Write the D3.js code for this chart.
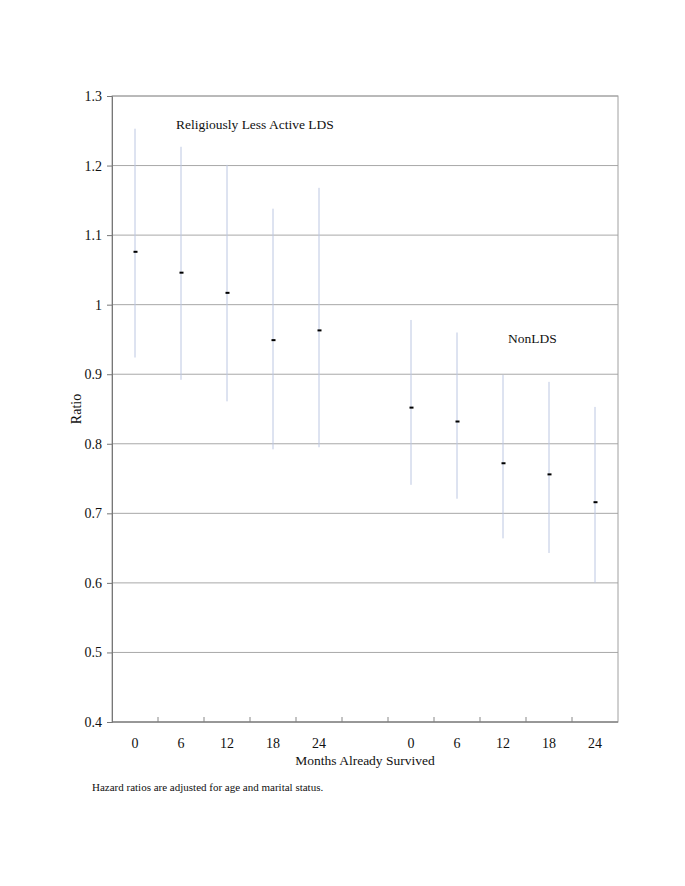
<!DOCTYPE html>
<html><head><meta charset="utf-8">
<script src="https://cdn.jsdelivr.net/npm/d3@7"></script>
<style>body{margin:0;background:#fff}svg{display:block}svg text{font-family:"Liberation Serif","Times New Roman",serif !important;fill:#111}</style>
</head><body>
<svg id="c" width="685" height="886"></svg>
<script>
const categories = ["L0","L6","L12","L18","L24","gap","N0","N6","N12","N18","N24"];
const tickLabels = ["0","6","12","18","24","","0","6","12","18","24"];
const pointCats = ["L0","L6","L12","L18","L24","N0","N6","N12","N18","N24"];
const ratio = [1.076,1.046,1.017,0.949,0.963,0.852,0.832,0.772,0.756,0.716];
const upper = [1.253,1.227,1.201,1.138,1.168,0.978,0.960,0.899,0.889,0.853];
const lower = [0.924,0.892,0.861,0.792,0.795,0.741,0.721,0.664,0.643,0.600];
const yTicks = [0.4,0.5,0.6,0.7,0.8,0.9,1.0,1.1,1.2,1.3];

const svg = d3.select("#c");
const L=112,R=618,T=96,B=722;
const x = d3.scaleBand().domain(categories).range([L,R]);
const y = d3.scaleLinear().domain([0.4,1.3]).range([B,T]);

// gridlines
svg.append("g").selectAll("line").data(yTicks).join("line")
  .attr("x1",L).attr("x2",R).attr("y1",d=>y(d)).attr("y2",d=>y(d))
  .attr("stroke","#a8a8a8").attr("stroke-width",1);
// frame
svg.append("rect").attr("x",L).attr("y",T).attr("width",R-L).attr("height",B-T)
  .attr("fill","none").attr("stroke","#a0a0a0").attr("stroke-width",1);

// y axis
const ya = svg.append("g").attr("transform",`translate(${L},0)`)
  .call(d3.axisLeft(y).tickValues(yTicks).tickSize(5).tickPadding(5).tickFormat(d=>d===1?"1":d3.format(".1f")(d)));
ya.attr("font-family",null).attr("font-size",null);
ya.select(".domain").attr("stroke","#777");
ya.selectAll(".tick line").attr("stroke","#777");
ya.selectAll("text").style("font-size","14px").style("font-family","'Liberation Serif', serif").attr("fill","#111");

// x axis: ticks at band boundaries, labels at centers
const bounds = categories.slice(1).map(c=>x(c));
svg.append("g").selectAll("line").data(bounds).join("line")
  .attr("x1",d=>d).attr("x2",d=>d).attr("y1",B-5).attr("y2",B)
  .attr("stroke","#888");
svg.append("line").attr("x1",L).attr("x2",R).attr("y1",B).attr("y2",B).attr("stroke","#777");
svg.append("g").selectAll("text").data(categories).join("text")
  .attr("x",d=>x(d)+x.bandwidth()/2).attr("y",748)
  .attr("text-anchor","middle").style("font-size","14px")
  .text((d,i)=>tickLabels[i]);

// CI lines
const pts = pointCats.map((c,i)=>({c,r:ratio[i],u:upper[i],l:lower[i]}));
svg.append("g").selectAll("line").data(pts).join("line")
  .attr("x1",d=>x(d.c)+x.bandwidth()/2).attr("x2",d=>x(d.c)+x.bandwidth()/2)
  .attr("y1",d=>y(d.u)).attr("y2",d=>y(d.l))
  .attr("stroke","#bcc7e2").attr("stroke-width",1);
// point marks
svg.append("g").selectAll("rect").data(pts).join("rect")
  .attr("x",d=>x(d.c)+x.bandwidth()/2-1.5).attr("y",d=>y(d.r)-1)
  .attr("width",4).attr("height",2).attr("fill","#000");

// annotations
svg.append("text").attr("x",176).attr("y",129).style("font-size","13.5px").text("Religiously Less Active LDS");
svg.append("text").attr("x",508).attr("y",343).style("font-size","13.5px").text("NonLDS");
svg.append("text").attr("transform","translate(81,409) rotate(-90)").attr("text-anchor","middle").style("font-size","14px").text("Ratio");
svg.append("text").attr("x",365).attr("y",765).attr("text-anchor","middle").style("font-size","13.5px").text("Months Already Survived");
svg.append("text").attr("x",92).attr("y",791).style("font-size","11px").text("Hazard ratios are adjusted for age and marital status.");
</script>
</body></html>
